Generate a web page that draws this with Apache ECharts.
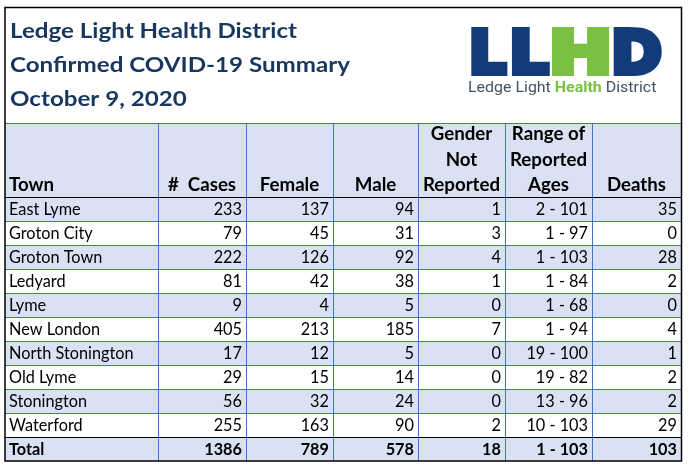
<!DOCTYPE html>
<html><head><meta charset="utf-8">
<script src="https://cdn.jsdelivr.net/npm/echarts@6/dist/echarts.min.js"></script>
<style>html,body{margin:0;padding:0;background:#fff}#c{width:694px;height:469px}</style>
</head><body><div id="c"></div>
<script>
// ---- data ----
const titleLines = ['Ledge Light Health District', 'Confirmed COVID-19 Summary', 'October 9, 2020'];
const headers = ['Town', '#  Cases', 'Female', 'Male', 'Gender\nNot\nReported', 'Range of\nReported\nAges', 'Deaths'];
const towns = ['East Lyme', 'Groton City', 'Groton Town', 'Ledyard', 'Lyme', 'New London', 'North Stonington', 'Old Lyme', 'Stonington', 'Waterford'];
const cases = [233, 79, 222, 81, 9, 405, 17, 29, 56, 255];
const female = [137, 45, 126, 42, 4, 213, 12, 15, 32, 163];
const male = [94, 31, 92, 38, 5, 185, 5, 14, 24, 90];
const genderNotReported = [1, 3, 4, 1, 0, 7, 0, 0, 0, 2];
const ageRange = ['2 - 101', '1 - 97', '1 - 103', '1 - 84', '1 - 68', '1 - 94', '19 - 100', '19 - 82', '13 - 96', '10 - 103'];
const deaths = [35, 0, 28, 2, 0, 4, 1, 2, 2, 29];
const totalRow = ['Total', 1386, 789, 578, 18, '1 - 103', 103];
const logoLetters = ['L', 'L', 'H', 'D'];
const logoTagline = ['Ledge Light ', 'Health', ' District'];

// ---- table built from the arrays ----
const table = [headers];
towns.forEach((t, i) => table.push([t, cases[i], female[i], male[i], genderNotReported[i], ageRange[i], deaths[i]]));
table.push(totalRow);

// ---- layout (not data) ----
const colEdges = [0, 153, 241, 328, 413, 500, 587, 676];
const rowEdges = [0, 74];
for (let i = 0; i < 11; i++) rowEdges.push(74 + 24 * (i + 1));
const FONT = 'Lato, "Open Sans", sans-serif';
const BLUE_FILL = '#D9E1F2';
const GRID_LINE = '#4472C4';
const NAVY = '#123B7A';
const GREEN = '#7AC143';

const cells = [];
table.forEach((row, r) => row.forEach((v, c) => cells.push([c, r])));

function renderCell(params, api) {
  const c = api.value(0), r = api.value(1);
  const p0 = api.coord([colEdges[c], rowEdges[r]]);
  const p1 = api.coord([colEdges[c + 1], rowEdges[r + 1]]);
  const x0 = Math.round(p0[0]), y0 = Math.round(p0[1]);
  const x1 = Math.round(p1[0]), y1 = Math.round(p1[1]);
  const isHeader = r === 0, isTotal = r === table.length - 1;
  const fill = (isHeader || r % 2 === 1) ? BLUE_FILL : '#ffffff';
  const children = [{
    type: 'rect', z2: 0,
    shape: { x: x0, y: y0, width: x1 - x0, height: y1 - y0 },
    style: { fill: fill }
  }];
  if (c < 6) children.push({
    type: 'line', z2: 10,
    shape: { x1: x1 + 0.5, y1: y0, x2: x1 + 0.5, y2: y1 },
    style: { stroke: GRID_LINE, lineWidth: 1 }
  });
  if (!isTotal) children.push({
    type: 'line', z2: (isHeader || r === table.length - 2) ? 12 : 10,
    shape: { x1: x0, y1: y1 + 0.5, x2: x1 + 1, y2: y1 + 0.5 },
    style: { stroke: (isHeader || r === table.length - 2) ? '#000000' : GRID_LINE, lineWidth: 1 }
  });
  if (isHeader) children.push({
    type: 'line', z2: 10,
    shape: { x1: x0, y1: y0 + 0.5, x2: x1 + 1, y2: y0 + 0.5 },
    style: { stroke: GRID_LINE, lineWidth: 1 }
  });
  const txt = String(table[r][c]);
  let tx, align;
  if (c === 0) { tx = x0 + 4; align = 'left'; }
  else if (isHeader) { tx = (x0 + x1) / 2; align = 'center'; }
  else { tx = x1 - 4; align = 'right'; }
  children.push({
    type: 'text', z2: 20,
    style: {
      text: txt, x: tx,
      y: isHeader ? y1 + 1 : (y0 + y1) / 2 + 1,
      align: align,
      verticalAlign: isHeader ? 'bottom' : 'middle',
      font: ((isHeader || isTotal) ? 'bold ' : '') + (isHeader ? '18.7px ' : '16.3px ') + FONT,
      lineHeight: 25.5,
      fill: '#000000'
    }
  });
  return { type: 'group', children: children };
}

const graphics = [];
titleLines.forEach((t, i) => graphics.push({
  type: 'text', x: 10, y: 31.5 + i * 34, scaleX: 1.15,
  style: { text: t, x: 0, y: 0, font: 'bold 21px ' + FONT, fill: '#17375E', verticalAlign: 'middle' }
}));
// logo letters: centre x and horizontal stretch (layout)
const logoCX = [487.5, 529, 580.5, 636.5];
const logoSX = [1.0, 1.05, 1.3, 1.05];
logoLetters.forEach((l, i) => graphics.push({
  type: 'text', x: logoCX[i], y: 57.5, scaleX: logoSX[i],
  style: {
    text: l, x: 0, y: 0, align: 'center', verticalAlign: 'middle',
    font: 'bold 58px "DejaVu Sans", sans-serif',
    fill: l === 'H' ? GREEN : NAVY,
    stroke: l === 'H' ? GREEN : NAVY, lineWidth: 6, lineJoin: 'miter'
  }
}));
graphics.push({
  type: 'text', x: 468, y: 88, scaleX: 1.1,
  style: {
    x: 0, y: 0,
    text: '{a|' + logoTagline[0] + '}{b|' + logoTagline[1] + '}{a|' + logoTagline[2] + '}',
    verticalAlign: 'middle',
    rich: {
      a: { font: '14.5px Roboto, sans-serif', fill: '#445163' },
      b: { font: 'bold 14.5px Roboto, sans-serif', fill: GREEN }
    }
  }
});
graphics.push({
  type: 'rect', z: 100,
  shape: { x: 5, y: 7.5, width: 676.5, height: 453.5 },
  style: { fill: 'none', stroke: '#000000', lineWidth: 1.5 }
});

const chart = echarts.init(document.getElementById('c'), null, { renderer: 'canvas' });
chart.setOption({
  animation: false,
  backgroundColor: '#ffffff',
  grid: { left: 5, top: 123, width: 676, height: 338 },
  xAxis: { type: 'value', min: 0, max: 676, show: false },
  yAxis: { type: 'value', min: 0, max: 338, inverse: true, show: false },
  graphic: graphics,
  series: [{
    type: 'custom',
    coordinateSystem: 'cartesian2d',
    renderItem: renderCell,
    data: cells,
    silent: true
  }]
});
</script>
</body></html>
